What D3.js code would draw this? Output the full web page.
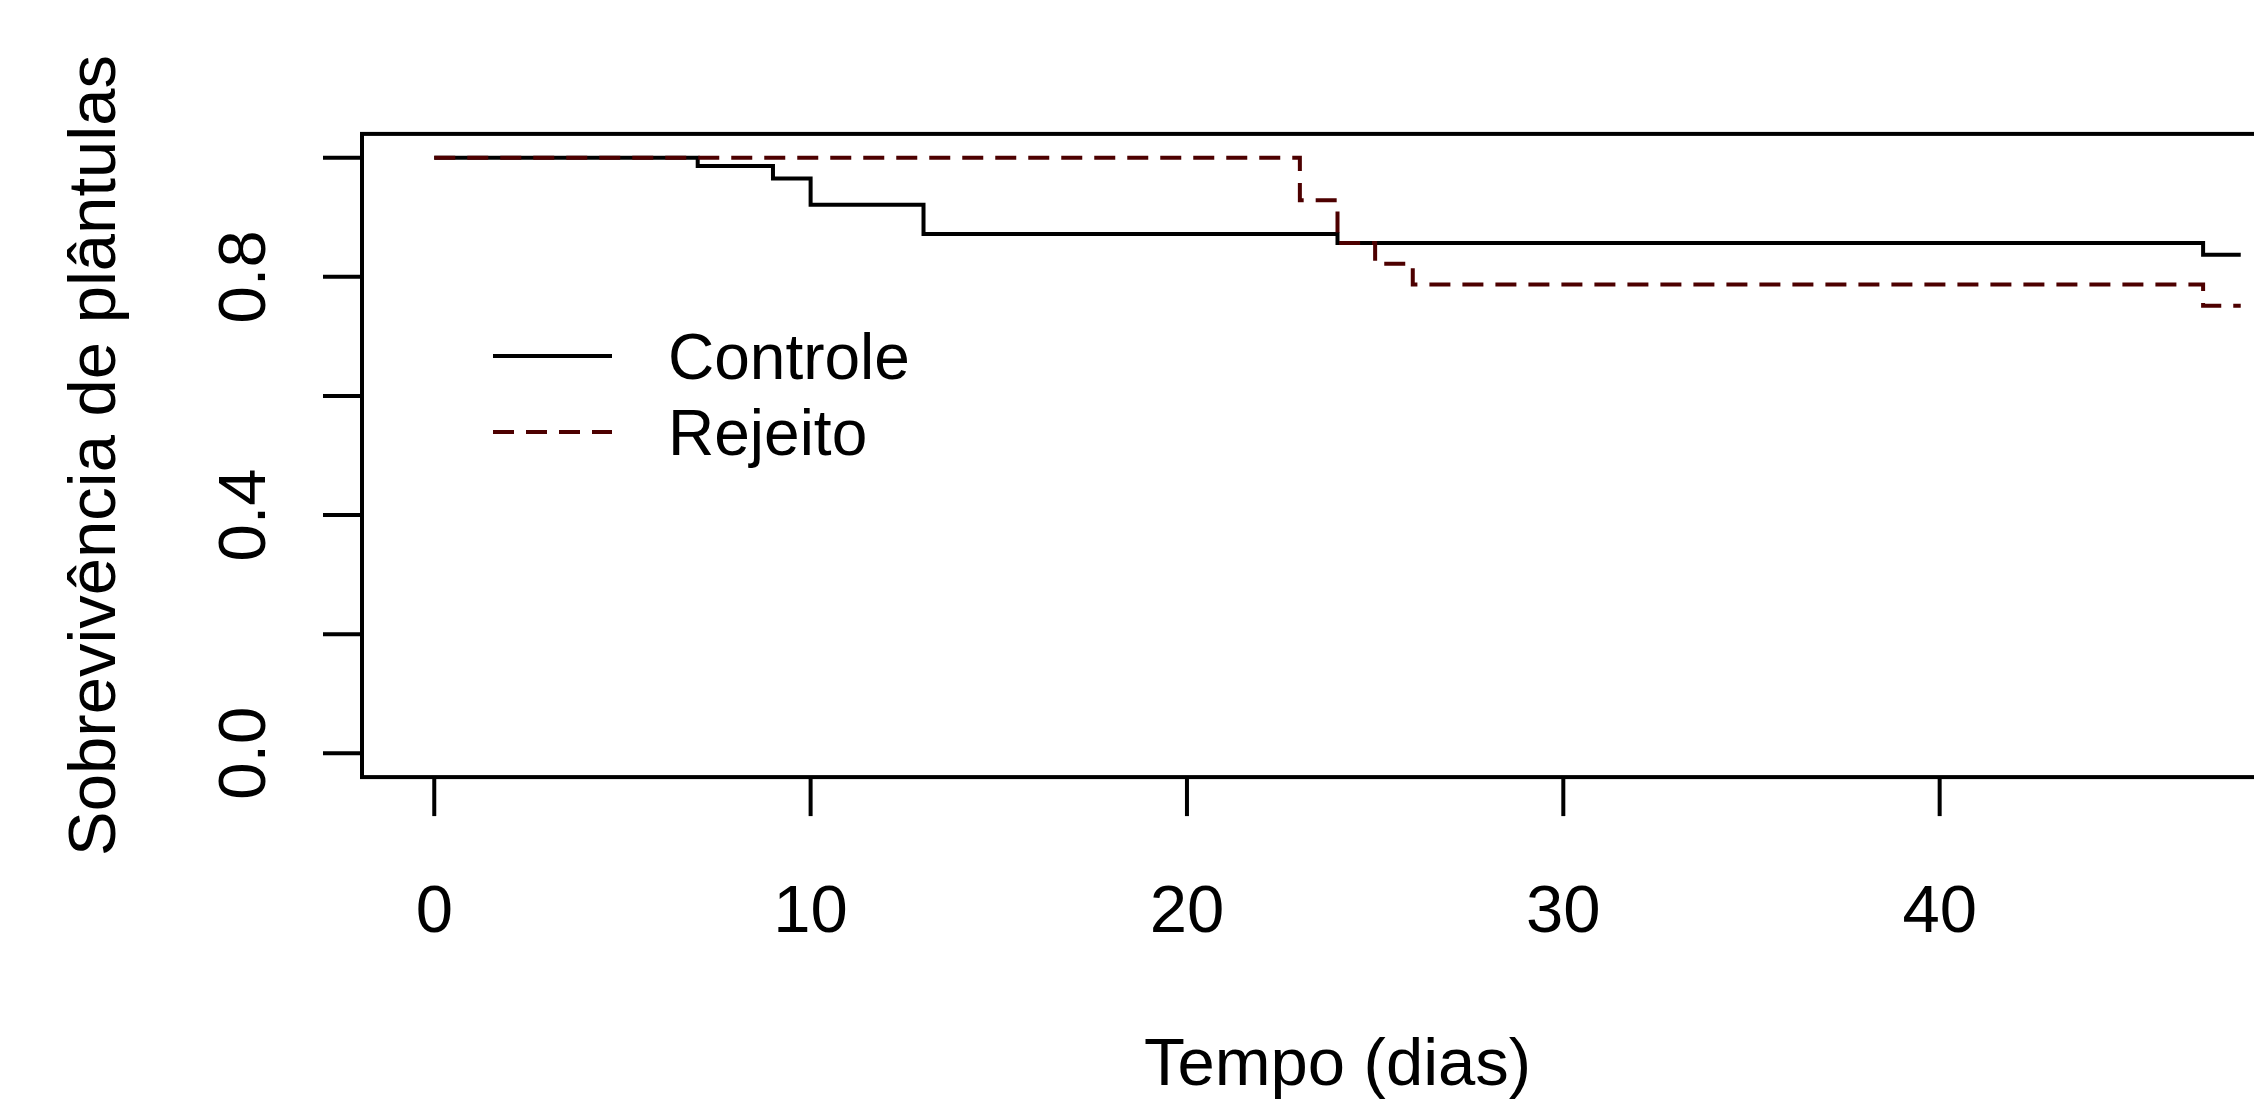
<!DOCTYPE html>
<html>
<head>
<meta charset="utf-8">
<script src="https://cdn.jsdelivr.net/npm/d3@7"></script>
<style>
  html, body { margin: 0; padding: 0; background: #fff; overflow: hidden; }
  svg { display: block; }
  text { font-family: "Liberation Sans", Arial, sans-serif; fill: #000; }
</style>
</head>
<body>
<div id="chart"></div>
<script>
// survival curves (Kaplan-Meier steps)
var controleTimes = [0, 7, 9, 10, 13, 24, 47];
var controleSurv = [1, 0.986, 0.965, 0.921, 0.872, 0.857, 0.837];
var rejeitoTimes = [0, 23, 24, 25, 26, 47];
var rejeitoSurv = [1, 0.9285, 0.857, 0.822, 0.787, 0.7515];
var lastTime = 48;

var xTicks = [0, 10, 20, 30, 40];
var yTicks = [0, 0.2, 0.4, 0.6, 0.8, 1.0];
var yLabels = ["0.0", "0.4", "0.8"];
var legendNames = ["Controle", "Rejeito"];

var W = 2254, H = 1104;
var fs = 67, legFs = 64;
var lw = 4;

// R default: 4% padding on each side of the data range
var x = d3.scaleLinear().domain([-0.04 * lastTime, lastTime * 1.04]).range([362, 2313]);
var y = d3.scaleLinear().domain([-0.04, 1.04]).range([777.1, 133.9]);

var svg = d3.select("#chart").append("svg")
    .attr("width", W)
    .attr("height", H);

function steps(times, surv) {
    var pts = [];
    for (var i = 0; i < times.length; i++) {
        if (i > 0) pts.push([times[i], surv[i - 1]]);
        pts.push([times[i], surv[i]]);
    }
    pts.push([lastTime, surv[surv.length - 1]]);
    return pts;
}

var line = d3.line()
    .x(function (d) { return x(d[0]); })
    .y(function (d) { return y(d[1]); });

// curves
svg.append("path")
    .attr("d", line(steps(controleTimes, controleSurv)))
    .attr("fill", "none")
    .attr("stroke", "#000")
    .attr("stroke-width", lw);

svg.append("path")
    .attr("d", line(steps(rejeitoTimes, rejeitoSurv)))
    .attr("fill", "none")
    .attr("stroke", "#4d0000")
    .attr("stroke-width", lw)
    .attr("stroke-dasharray", "21,12");

// box
var x0 = x.range()[0], x1 = x.range()[1], y0 = y.range()[0], y1 = y.range()[1];
svg.append("rect")
    .attr("x", x0).attr("y", y1)
    .attr("width", x1 - x0).attr("height", y0 - y1)
    .attr("fill", "none")
    .attr("stroke", "#000")
    .attr("stroke-width", lw);

// x axis
var gx = svg.append("g");
gx.selectAll("line").data(xTicks).enter().append("line")
    .attr("x1", function (d) { return x(d); })
    .attr("x2", function (d) { return x(d); })
    .attr("y1", y0).attr("y2", y0 + 39)
    .attr("stroke", "#000").attr("stroke-width", lw);
gx.selectAll("text").data(xTicks).enter().append("text")
    .attr("x", function (d) { return x(d); })
    .attr("y", 932)
    .attr("text-anchor", "middle")
    .attr("font-size", fs)
    .text(function (d) { return d; });

// y axis
var gy = svg.append("g");
gy.selectAll("line").data(yTicks).enter().append("line")
    .attr("x1", x0 - 39).attr("x2", x0)
    .attr("y1", function (d) { return y(d); })
    .attr("y2", function (d) { return y(d); })
    .attr("stroke", "#000").attr("stroke-width", lw);
gy.selectAll("text").data(yLabels).enter().append("text")
    .attr("transform", function (d) { return "translate(265," + y(+d) + ") rotate(-90)"; })
    .attr("text-anchor", "middle")
    .attr("font-size", fs)
    .text(function (d) { return d; });

// axis titles
svg.append("text")
    .attr("x", (x0 + x1) / 2)
    .attr("y", 1085)
    .attr("text-anchor", "middle")
    .attr("font-size", fs)
    .text("Tempo (dias)");

svg.append("text")
    .attr("transform", "translate(115," + (y0 + y1) / 2 + ") rotate(-90)")
    .attr("text-anchor", "middle")
    .attr("font-size", fs)
    .text("Sobrevivência de plântulas");

// legend
var legY = [356, 432];
var leg = svg.selectAll(".leg").data(legendNames).enter().append("g").attr("class", "leg");
leg.append("line")
    .attr("x1", 493).attr("x2", 612)
    .attr("y1", function (d, i) { return legY[i]; })
    .attr("y2", function (d, i) { return legY[i]; })
    .attr("stroke", function (d, i) { return i ? "#4d0000" : "#000"; })
    .attr("stroke-width", lw)
    .attr("stroke-dasharray", function (d, i) { return i ? "21,12" : null; });
leg.append("text")
    .attr("x", 668)
    .attr("y", function (d, i) { return legY[i] + 0.36 * legFs; })
    .attr("font-size", legFs)
    .text(function (d) { return d; });
</script>
</body>
</html>
